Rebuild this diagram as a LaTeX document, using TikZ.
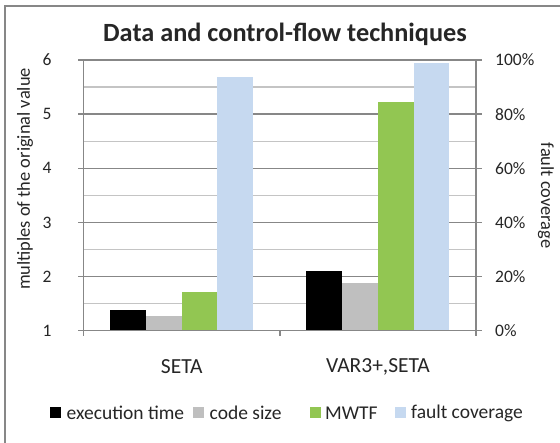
\documentclass[tikz,border=0pt]{standalone}
\usepackage{fontspec}
\setmainfont{Carlito}
\usepackage{xcolor}
\usepackage{tikz}
\definecolor{ChExec}{HTML}{000000}
\definecolor{ChCode}{HTML}{BFBFBF}
\definecolor{ChMWTF}{HTML}{92C652}
\definecolor{ChFault}{HTML}{C6D9F0}
\definecolor{ChAxis}{HTML}{878787}
\definecolor{ChGrid}{HTML}{C4C4C4}
\definecolor{ChText}{HTML}{262626}

\begin{document}
\begin{tikzpicture}[x=1pt, y=-1pt,
  frame/.style={draw=ChAxis, line width=1.6pt},
  axisline/.style={draw=ChAxis, line width=1.6pt},
  major/.style={draw=ChAxis, line width=1.2pt},
  minor/.style={draw=ChGrid, line width=1.2pt},
  tick/.style={font=\fontsize{17.5}{19}\selectfont, text=ChText, inner sep=0pt},
  axtitle/.style={font=\fontsize{18.4}{21}\selectfont, text=ChText, inner sep=0pt},
  cat/.style={font=\fontsize{21.5}{24}\selectfont, text=ChText, inner sep=0pt},
  title/.style={font=\fontsize{26.3}{29}\selectfont\bfseries, text=ChText},
  lgd/.style={font=\fontsize{19.5}{22}\selectfont, text=ChText, anchor=west, inner sep=0pt},
  swatch/.style={minimum size=11pt, inner sep=0pt, anchor=west},
]
  \clip (0,0) rectangle (560,443);
  \fill[white] (0,0) rectangle (560,443);
  \draw[frame] (5,6) rectangle (575,455);

  \node[title] (title) at (285,34) {Data and control-flow techniques};

  % gridlines
  \draw[minor] (83.5,87.1) -- (476,87.1);
  \draw[minor] (83.5,141.2) -- (476,141.2);
  \draw[minor] (83.5,195.4) -- (476,195.4);
  \draw[minor] (83.5,249.5) -- (476,249.5);
  \draw[minor] (83.5,303.6) -- (476,303.6);
  \draw[major] (78,60) -- (482,60);
  \draw[major] (78,114.1) -- (482,114.1);
  \draw[major] (78,168.3) -- (482,168.3);
  \draw[major] (78,222.4) -- (482,222.4);
  \draw[major] (78,276.6) -- (482,276.6);

  % bars
  \fill[ChExec]  (110,330.7) rectangle (146,310);
  \fill[ChCode]  (146,330.7) rectangle (181.5,315.7);
  \fill[ChMWTF]  (181.5,330.7) rectangle (217,292);
  \fill[ChFault] (217,330.7) rectangle (252.7,77);
  \fill[ChExec]  (306,330.7) rectangle (342,271);
  \fill[ChCode]  (342,330.7) rectangle (378,282.7);
  \fill[ChMWTF]  (378,330.7) rectangle (413.5,102);
  \fill[ChFault] (413.5,330.7) rectangle (449,63);

  % axes
  \draw[axisline] (83.5,60) -- (83.5,336);
  \draw[axisline] (476,60) -- (476,336);
  \draw[axisline] (78,330.7) -- (482,330.7);
  \draw[axisline] (280,330.7) -- (280,336);

  % left values
  \node[tick, anchor=east] (l1) at (51.7,330.7) {1};
  \node[tick, anchor=east] (l2) at (51.7,276.6) {2};
  \node[tick, anchor=east] (l3) at (51.7,222.4) {3};
  \node[tick, anchor=east] (l4) at (51.7,168.3) {4};
  \node[tick, anchor=east] (l5) at (51.7,114.1) {5};
  \node[tick, anchor=east] (l6) at (51.7,60) {6};
  % right values
  \node[tick, anchor=west] (r0) at (495,330.7) {0\%};
  \node[tick, anchor=west] (r20) at (495,276.6) {20\%};
  \node[tick, anchor=west] (r40) at (495,222.4) {40\%};
  \node[tick, anchor=west] (r60) at (495,168.3) {60\%};
  \node[tick, anchor=west] (r80) at (495,114.1) {80\%};
  \node[tick, anchor=west] (r100) at (495,60) {100\%};

  \node[axtitle, rotate=90] (ylab) at (25,179) {multiples of the original value};
  \node[axtitle, rotate=-90] (zlab) at (546,195.5) {fault coverage};

  \node[cat] (seta) at (181.7,366.5) {SETA};
  \node[cat] (varseta) at (378,366.5) {VAR3+,SETA};

  % legend
  \node[swatch, fill=ChExec] (k1) at (50,413) {};
  \node[lgd] (t1) at (66.5,413) {execution time};
  \node[swatch, fill=ChCode] (k2) at (193,413) {};
  \node[lgd] (t2) at (209.5,413) {code size};
  \node[swatch, fill=ChMWTF] (k3) at (310,413) {};
  \node[lgd] (t3) at (325,413) {MWTF};
  \node[swatch, fill=ChFault] (k4) at (395,413) {};
  \node[lgd] (t4) at (411,413) {fault coverage};
\end{tikzpicture}
\end{document}
